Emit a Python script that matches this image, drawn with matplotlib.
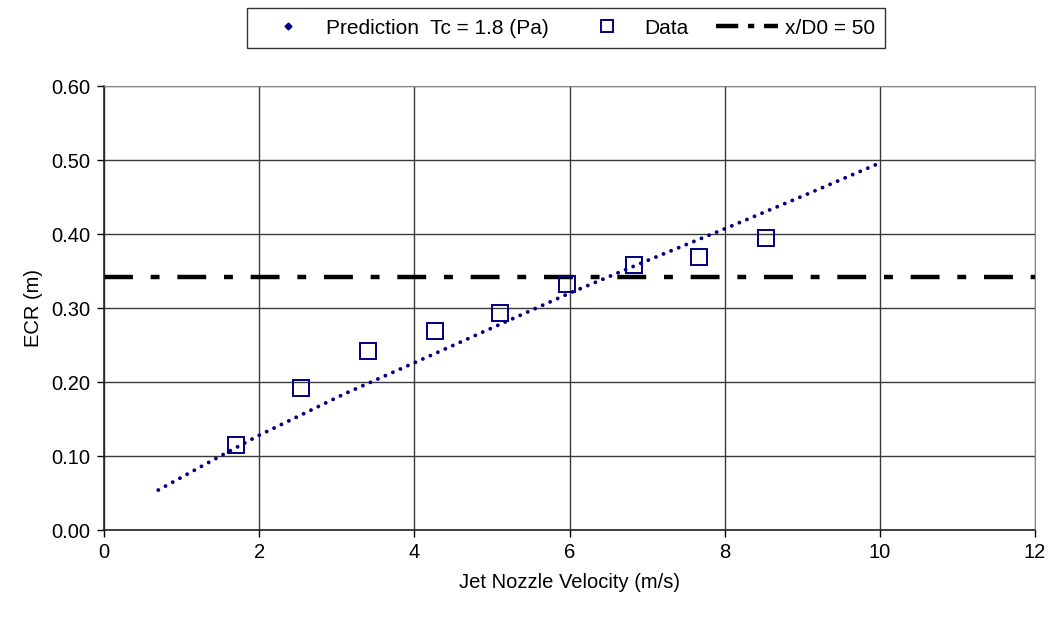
import matplotlib
matplotlib.use("Agg")
import matplotlib.pyplot as plt
from matplotlib.lines import Line2D

plt.rcParams['font.family'] = ['Liberation Sans', 'DejaVu Sans']

# Prediction curve
pred_x = [0.70, 1.5, 2.0, 3.1, 4.0, 5.0, 6.0, 7.0, 8.0, 9.0, 10.0]
pred_y = [0.054, 0.100, 0.128, 0.184, 0.226, 0.273, 0.320, 0.364, 0.407, 0.451, 0.496]

# Measured data
data_x = [1.70, 2.54, 3.40, 4.27, 5.10, 5.97, 6.83, 7.67, 8.53]
data_y = [0.115, 0.192, 0.242, 0.269, 0.293, 0.332, 0.358, 0.369, 0.395]

# Reference level x/D0 = 50
ref_y = 0.342
x_limits = [0, 12]

x_ticks = [0, 2, 4, 6, 8, 10, 12]
y_ticks = [0.0, 0.1, 0.2, 0.3, 0.4, 0.5, 0.6]

navy = '#000080'
fs = 14.5

fig = plt.figure(figsize=(10.5, 6.19), dpi=100)
ax = fig.add_axes([104/1050, 89/619, (1035-104)/1050, (530-86)/619])

ax.plot(pred_x, pred_y, color=navy, lw=2.8, linestyle=(0, (0.01, 2.1)),
        dash_capstyle='round', zorder=3)
ax.plot(data_x, data_y, linestyle='none', marker='s', markersize=11.5,
        markerfacecolor='none', markeredgecolor=navy, markeredgewidth=1.4, zorder=4)
ax.plot(x_limits, [ref_y, ref_y], color='black', lw=3.2,
        linestyle=(0, (6.5, 4.0, 2.0, 4.0)), zorder=2)

ax.set_xlim(0, 12)
ax.set_ylim(0, 0.6)
ax.set_xticks(x_ticks)
ax.set_yticks(y_ticks)
ax.set_xticklabels([str(t) for t in x_ticks])
ax.set_yticklabels([f"{t:.2f}" for t in y_ticks])
ax.grid(True, color='#3a3a3a', lw=1.0)
ax.set_axisbelow(True)
for s in ['top', 'right']:
    ax.spines[s].set_color('#888888')
for s in ['left', 'bottom']:
    ax.spines[s].set_color('#222222')
    ax.spines[s].set_linewidth(1.2)
ax.tick_params(direction='out', length=5, width=1, labelsize=fs, colors='black', pad=5)
ax.tick_params(axis='x', pad=4)

ax.set_xlabel('Jet Nozzle Velocity (m/s)', fontsize=fs, labelpad=8)
ax.set_ylabel('ECR (m)', fontsize=fs, labelpad=6)

handles = [
    Line2D([], [], linestyle='none', marker='D', markersize=3.5, color=navy),
    Line2D([], [], linestyle='none', marker='s', markersize=9,
           markerfacecolor='none', markeredgecolor=navy, markeredgewidth=1.4),
    Line2D([], [], color='black', lw=3.2, linestyle=(0, (5, 2.2, 1.4, 2.2))),
]
labels = ['Prediction  Tc = 1.8 (Pa)', 'Data', 'x/D0 = 50']
leg = fig.legend(handles, labels, loc='center', bbox_to_anchor=(566/1050, 1 - 28/619),
                 ncol=3, fontsize=fs + 0.5, frameon=True, fancybox=False,
                 edgecolor='black', handlelength=3.0, handletextpad=0.3,
                 columnspacing=1.3, borderpad=0.5, borderaxespad=0.3)
leg.get_frame().set_linewidth(1.0)

fig.savefig('out.png', dpi=100)
